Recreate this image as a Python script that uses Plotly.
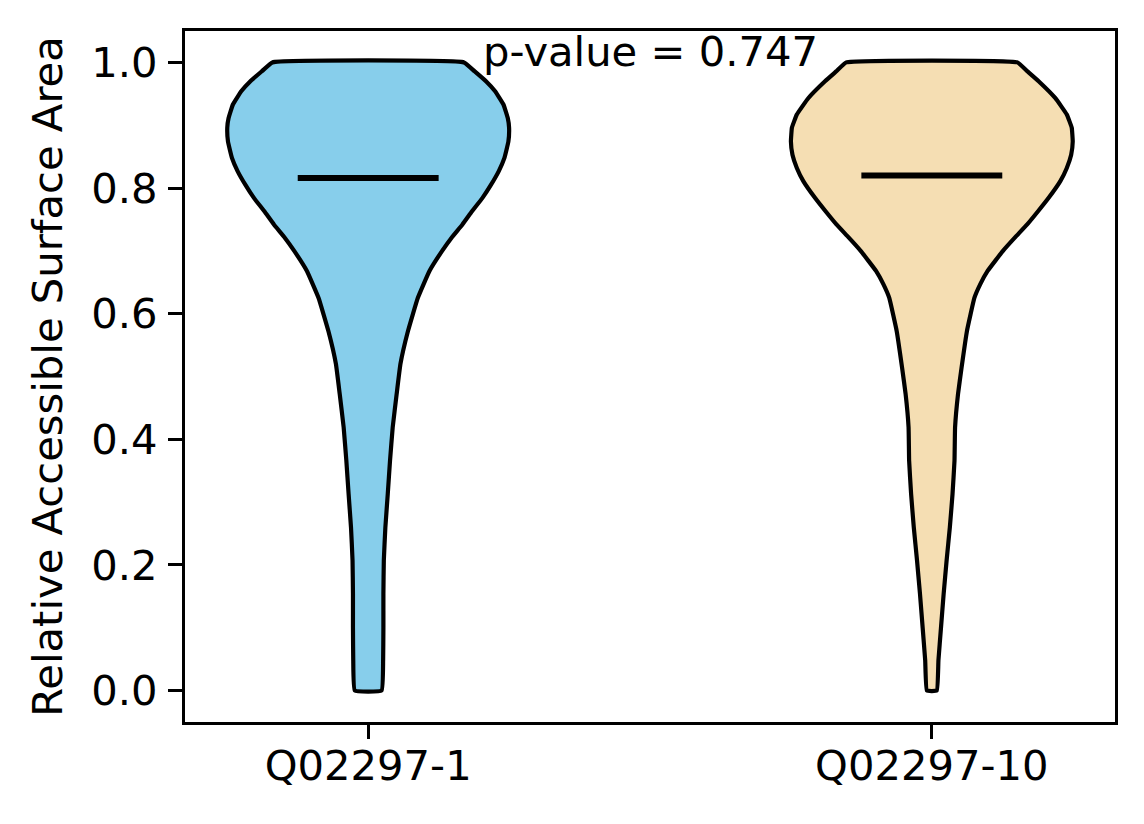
import plotly.graph_objects as go

# categories and positions on the x axis
labels = ["Q02297-1", "Q02297-10"]
positions = [1, 2]
colors = ["#87CEEB", "#F5DEB3"]

# violin outline: y level and density (1 = widest)
v1_y = [1.0, 0.986, 0.970, 0.954, 0.933, 0.911, 0.896, 0.874, 0.848, 0.827,
        0.805, 0.784, 0.763, 0.742, 0.721, 0.700, 0.668, 0.625, 0.572, 0.520,
        0.472, 0.419, 0.366, 0.313, 0.260, 0.207, 0.154, 0.100, 0.048, 0.0]
v1_dens = [0.680, 0.754, 0.836, 0.901, 0.960, 0.991, 1.0, 0.995, 0.967, 0.927,
           0.871, 0.810, 0.737, 0.669, 0.592, 0.525, 0.435, 0.352, 0.282, 0.229,
           0.202, 0.174, 0.155, 0.139, 0.122, 0.111, 0.108, 0.108, 0.106, 0.095]

v2_y = [1.0, 0.986, 0.970, 0.943, 0.917, 0.896, 0.874, 0.853, 0.832, 0.811,
        0.784, 0.763, 0.742, 0.721, 0.700, 0.668, 0.647, 0.625, 0.572, 0.514,
        0.472, 0.419, 0.366, 0.313, 0.260, 0.207, 0.154, 0.100, 0.048, 0.0]
v2_dens = [0.607, 0.677, 0.758, 0.877, 0.958, 0.993, 1.0, 0.989, 0.958, 0.912,
           0.828, 0.754, 0.677, 0.589, 0.505, 0.396, 0.344, 0.302, 0.249, 0.211,
           0.186, 0.165, 0.161, 0.147, 0.128, 0.105, 0.084, 0.065, 0.047, 0.035]

medians = [0.816, 0.820]
p_value = 0.747

half_width = 0.25  # matplotlib default widths=0.5
font = dict(family="DejaVu Sans", size=41.7, color="black")

fig = go.Figure()

for pos, col, ys, dens, med in zip(positions, colors, [v1_y, v2_y], [v1_dens, v2_dens], medians):
    xs_left = [pos - d * half_width for d in dens]
    xs_right = [pos + d * half_width for d in dens]
    fig.add_trace(go.Scatter(
        x=xs_left + xs_right[::-1] + [xs_left[0]],
        y=ys + ys[::-1] + [ys[0]],
        mode="lines", fill="toself", fillcolor=col,
        line=dict(color="black", width=4.2, shape="spline", smoothing=0.3),
        hoverinfo="skip", showlegend=False,
    ))
    fig.add_trace(go.Scatter(
        x=[pos - half_width / 2, pos + half_width / 2], y=[med, med],
        mode="lines", line=dict(color="black", width=6),
        showlegend=False,
    ))

fig.add_annotation(
    x=1.5, y=1.018, text=f"p-value = {p_value}", showarrow=False,
    xanchor="center", yanchor="middle", font=font,
)

fig.update_layout(
    width=1144, height=824,
    margin=dict(l=177, r=37, t=23, b=110),
    paper_bgcolor="white", plot_bgcolor="white",
    font=font,
)
fig.update_xaxes(
    range=[0.675, 2.325], tickvals=positions, ticktext=labels,
    showline=True, linecolor="black", linewidth=3.3, mirror=True,
    ticks="outside", ticklen=14, tickwidth=3.3, tickcolor="black",
    showgrid=False, zeroline=False, ticklabelstandoff=-9,
)
fig.update_yaxes(
    range=[-0.05, 1.05], tickvals=[0.0, 0.2, 0.4, 0.6, 0.8, 1.0], tickformat=".1f",
    showline=True, linecolor="black", linewidth=3.3, mirror=True,
    ticks="outside", ticklen=14, tickwidth=3.3, tickcolor="black",
    showgrid=False, zeroline=False, ticklabelstandoff=2,
    title=dict(text="Relative Accessible Surface Area", font=font, standoff=16),
)

fig.write_html("out.html")
